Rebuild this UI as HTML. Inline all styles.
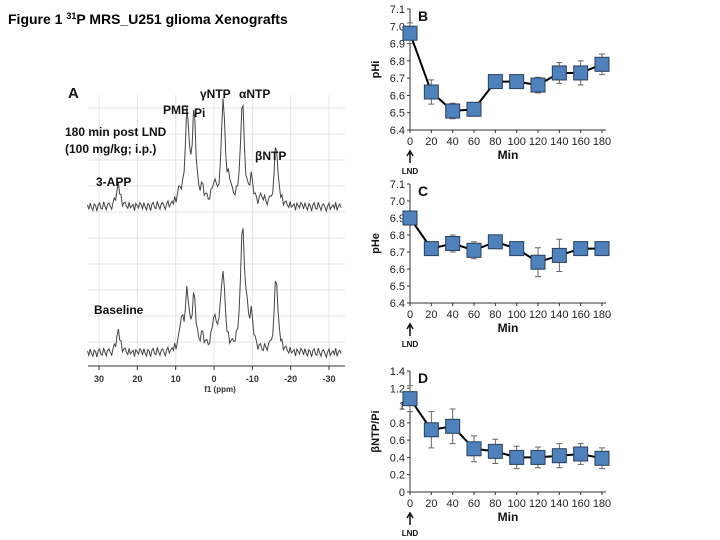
<!DOCTYPE html>
<html><head><meta charset="utf-8"><style>
body{margin:0;background:#fff;}
svg{display:block;font-family:"Liberation Sans",Arial,sans-serif;}
</style></head><body>
<svg id="fig" width="720" height="540" viewBox="0 0 720 540">
<text x="8" y="24" font-size="14" font-weight="bold">Figure 1  <tspan font-size="9" dy="-5">31</tspan><tspan dy="5">P MRS_U251 glioma Xenografts</tspan></text>
<g id="spec"></g>
<g id="chartB"></g>
<g id="chartC"></g>
<g id="chartD"></g>
</svg>
<script>
// ---- chart data ----
const minutes = [0,20,40,60,80,100,120,140,160,180];
const xTicks = [0,20,40,60,80,100,120,140,160,180];
const pHiVals = [6.96,6.62,6.51,6.52,6.68,6.68,6.66,6.73,6.73,6.78];
const pHiErr = [0.06,0.07,0.045,0.035,0.02,0.02,0.045,0.06,0.07,0.06];
const pHeVals = [6.90,6.72,6.75,6.71,6.76,6.72,6.64,6.68,6.72,6.72];
const pHeErr = [0.02,0.02,0.05,0.05,0.02,0.02,0.085,0.095,0.01,0.01];
const ratioVals = [1.08,0.72,0.76,0.50,0.47,0.40,0.40,0.42,0.44,0.39];
const ratioErr = [0.15,0.21,0.20,0.15,0.14,0.13,0.12,0.14,0.12,0.12];
const phTicks = [6.4,6.5,6.6,6.7,6.8,6.9,7.0,7.1];
const phTickLabels = ["6.4","6.5","6.6","6.7","6.8","6.9","7.0","7.1"];
const ratioTicks = [0,0.2,0.4,0.6,0.8,1,1.2,1.4];
const ratioTickLabels = ["0","0.2","0.4","0.6","0.8","1","1.2","1.4"];
// spectrum peaks: ppm, height
const topPeakPpm = [25,9,7,5.2,3,0,-2.4,-4,-7.4,-9.8,-12.5,-16.2];
const topPeakH = [22,12,94,88,14,20,107,18,107,25,8,62];
const botPeakPpm = [25,8.5,7,5.2,3,0,-1.5,-2.4,-7.4,-8.4,-9.8,-16.2];
const botPeakH = [22,30,58,52,14,32,20,75,123,30,32,76];
const noise = [2,-3,4,-1,-4,3,1,-5,2,4,-2,-3,5,0,-4,2,3,-1,-5,1,4,-3,0,2,-2,5,-4,1,3,-1,-3,4,-2,0,2,-5,3,1,-2,4];
const specTicks = [30,20,10,0,-10,-20,-30];
const specTickLabels = ["30","20","10","0","-10","-20","-30"];

const NS="http://www.w3.org/2000/svg";
function mk(parent,tag,attrs,text){const e=document.createElementNS(NS,tag);for(const k in attrs)e.setAttribute(k,attrs[k]);if(text!==undefined)e.textContent=text;parent.appendChild(e);return e;}

// ---- spectrum ----
(function(){
  const g=document.getElementById('spec');
  const px=p=>99+(30-p)*(230/60);
  [0,1,2,3,4,5,6,7,8,9].forEach(i=>{const y=108+i*26;
    const l=mk(g,'line',{x1:88,x2:345,y1:y,y2:y,stroke:'#e4e4e4','stroke-width':1});
    
    });
  specTicks.forEach((t,i)=>{
    const l=mk(g,'line',{x1:px(t),x2:px(t),y1:95,y2:366,stroke:'#e4e4e4','stroke-width':1});
    
    
    const tk=mk(g,'line',{x1:px(t),x2:px(t),y1:366,y2:370,stroke:'#333'});
    
    
    const tx=mk(g,'text',{x:px(t),y:382,'font-size':9,'font-weight':'bold','text-anchor':'middle',fill:'#333'},specTickLabels[i]);
    
    
  });
  const ax=mk(g,'line',{x1:88,x2:345,y1:366,y2:366,stroke:'#333','stroke-width':1});
  
  
  const xl=mk(g,'text',{x:220,y:392,'font-size':8,'font-weight':'bold','text-anchor':'middle',fill:'#333'},'f1 (ppm)');
  
  
  function trace(ppms,hs,base,name){
    let d='';let n=0;
    for(let p=33;p>=-33.5;p-=0.35){
      let y=0;ppms.forEach((c,i)=>{const w=0.55;y+=hs[i]/(1+((p-c)/w)**2);});
      y+=noise[n%noise.length]*0.9;n++;
      d+=(d?'L':'M')+px(p).toFixed(1)+' '+(base-y).toFixed(1);
    }
    const path=mk(g,'path',{d:d,fill:'none',stroke:'#444','stroke-width':1});
    
    
  }
  trace(topPeakPpm,topPeakH,207,'spectrum-180min-trace');
  trace(botPeakPpm,botPeakH,353,'spectrum-baseline-trace');
  const labels=[['A',68,98,15],['PME',163,114,12],['Pi',194,117,12],['γNTP',200,98,12],['αNTP',239,98,12],['βNTP',255,160,12],['180 min post LND',65,136,12],['(100 mg/kg; i.p.)',65,153,12],['3-APP',96,186,12],['Baseline',94,314,12]];
  labels.forEach(a=>{const t=mk(g,'text',{x:a[1],y:a[2],'font-size':a[3],'font-weight':'bold',fill:'#111'},a[0]);
    
    });
})();

// ---- line charts ----
function lineChart(id,vals,errs,ticks,tickLabels,yMin,yMax,top,bot,letter,ytitle){
  const g=document.getElementById(id);
  const x0=410,x1=602;
  const xs=m=>x0+(m-0)/(180)*(x1-x0);
  const ys=v=>bot-(v-yMin)/(yMax-yMin)*(bot-top);
  const ya=mk(g,'line',{x1:x0,x2:x0,y1:top,y2:bot,stroke:'#333'});
  
  
  const xa=mk(g,'line',{x1:x0,x2:x1+4,y1:bot,y2:bot,stroke:'#333'});
  
  
  ticks.forEach((t,i)=>{
    const tk=mk(g,'line',{x1:x0-3,x2:x0,y1:ys(t),y2:ys(t),stroke:'#333'});
    
    
    const tl=mk(g,'text',{x:x0-5,y:ys(t)+4,'font-size':11,'text-anchor':'end',fill:'#222'},tickLabels[i]);
    
    
  });
  xTicks.forEach(t=>{
    const tk=mk(g,'line',{x1:xs(t),x2:xs(t),y1:bot,y2:bot+3,stroke:'#333'});
    
    
    const tl=mk(g,'text',{x:xs(t),y:bot+15,'font-size':11,'text-anchor':'middle',fill:'#222'},String(t));
    
    
  });
  const xt=mk(g,'text',{x:508,y:bot+29,'font-size':12,'font-weight':'bold','text-anchor':'middle',fill:'#111'},'Min');
  
  
  const yt=mk(g,'text',{x:0,y:0,'font-size':11,'font-weight':'bold','text-anchor':'middle',fill:'#111',transform:`translate(379,${(top+bot)/2}) rotate(-90)`},ytitle);
  
  
  const lt=mk(g,'text',{x:418,y:top+12,'font-size':14,'font-weight':'bold',fill:'#111'},letter);
  
  
  const ar=mk(g,'path',{d:`M${x0} ${bot+33}L${x0} ${bot+22}M${x0-3} ${bot+26}L${x0} ${bot+21}L${x0+3} ${bot+26}`,stroke:'#111','stroke-width':1.5,fill:'none'});
  
  
  const ln=mk(g,'text',{x:x0,y:bot+44,'font-size':8,'font-weight':'bold','text-anchor':'middle',fill:'#111'},'LND');
  
  
  vals.forEach((v,i)=>{
    const x=xs(minutes[i]);
    const eb=mk(g,'path',{d:`M${x} ${ys(v+errs[i])}L${x} ${ys(v-errs[i])}M${x-3} ${ys(v+errs[i])}L${x+3} ${ys(v+errs[i])}M${x-3} ${ys(v-errs[i])}L${x+3} ${ys(v-errs[i])}`,stroke:'#666','stroke-width':1,fill:'none'});
    
    
  });
  const pl=mk(g,'polyline',{points:vals.map((v,i)=>xs(minutes[i])+','+ys(v)).join(' '),fill:'none',stroke:'#000','stroke-width':2});
  
  
  vals.forEach((v,i)=>{
    const r=mk(g,'rect',{x:xs(minutes[i])-7,y:ys(v)-7,width:14,height:14,fill:'#4F81BD',stroke:'#2a3f5c','stroke-width':1});
    
    
  });
}
lineChart('chartB',pHiVals,pHiErr,phTicks,phTickLabels,6.4,7.1,9,130,'B','pHi');
lineChart('chartC',pHeVals,pHeErr,phTicks,phTickLabels,6.4,7.1,184,303,'C','pHe');
lineChart('chartD',ratioVals,ratioErr,ratioTicks,ratioTickLabels,0,1.4,371,492,'D','βNTP/Pi');
</script>
</body></html>
